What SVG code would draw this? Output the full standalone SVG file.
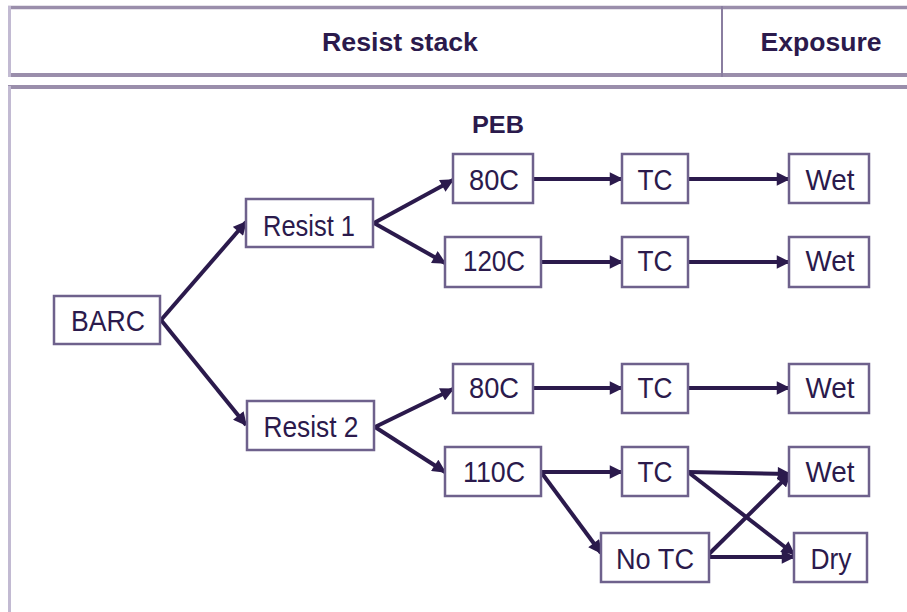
<svg xmlns="http://www.w3.org/2000/svg" width="907" height="612" viewBox="0 0 907 612">
<style>
.box{fill:#fff;stroke:#6e618c;stroke-width:2.5}
.t{font-family:"Liberation Sans",Arial,sans-serif;font-size:29px;fill:#2b1a4c;text-anchor:middle}
.h{font-family:"Liberation Sans",Arial,sans-serif;font-size:25px;font-weight:bold;fill:#2b1a4c;text-anchor:middle}
.c{stroke:#2b1a4c;stroke-width:4;fill:none;marker-end:url(#ah)}
</style>
<defs>
<marker id="ah" viewBox="0 0 10 10" refX="9" refY="5" markerWidth="3.6" markerHeight="3.4" orient="auto" markerUnits="strokeWidth">
<path d="M0,0 L10,5 L0,10 z" fill="#2b1a4c"/>
</marker>
</defs>
<rect width="907" height="612" fill="#fff"/>
<g id="header">
<line x1="8" y1="7.5" x2="907" y2="7.5" stroke="#9a8eab" stroke-width="3.5"/>
<line x1="8" y1="75" x2="907" y2="75" stroke="#9a8eab" stroke-width="4"/>
<line x1="9.5" y1="6" x2="9.5" y2="77" stroke="#c2bad2" stroke-width="3"/>
<line x1="722" y1="6" x2="722" y2="77" stroke="#8a7ea0" stroke-width="2"/>
<text class="h" x="400" y="51" textLength="156" lengthAdjust="spacingAndGlyphs">Resist stack</text>
<text class="h" x="821" y="51" textLength="121" lengthAdjust="spacingAndGlyphs">Exposure</text>
<line x1="8" y1="87" x2="907" y2="87" stroke="#9a8eab" stroke-width="4"/>
<line x1="9.5" y1="86" x2="9.5" y2="612" stroke="#c2bad2" stroke-width="3"/>
<text class="h" x="498" y="133" style="font-size:23px" textLength="52" lengthAdjust="spacingAndGlyphs">PEB</text>
</g>
<g id="connectors">
<line class="c" x1="161" y1="320" x2="246" y2="222"/>
<line class="c" x1="161" y1="320" x2="246" y2="425"/>
<line class="c" x1="374" y1="223" x2="453" y2="180"/>
<line class="c" x1="374" y1="223" x2="445" y2="263"/>
<line class="c" x1="375" y1="427" x2="453" y2="389"/>
<line class="c" x1="375" y1="427" x2="445" y2="472"/>
<line class="c" x1="533" y1="179" x2="622" y2="179"/>
<line class="c" x1="688" y1="179" x2="789" y2="179"/>
<line class="c" x1="541" y1="262" x2="622" y2="262"/>
<line class="c" x1="688" y1="262" x2="789" y2="262"/>
<line class="c" x1="533" y1="388" x2="622" y2="388"/>
<line class="c" x1="688" y1="388" x2="789" y2="388"/>
<line class="c" x1="541" y1="472" x2="622" y2="472"/>
<line class="c" x1="541" y1="472" x2="601" y2="553"/>
<line class="c" x1="688" y1="472" x2="790" y2="474"/>
<line class="c" x1="688" y1="472" x2="794" y2="554"/>
<line class="c" x1="709" y1="554" x2="790" y2="474"/>
<line class="c" x1="709" y1="557" x2="794" y2="557"/>
</g>
<g id="barc"><rect class="box" x="54" y="296" width="106" height="48"/><text class="t" x="108" y="331" textLength="74" lengthAdjust="spacingAndGlyphs">BARC</text></g>
<g id="resist1"><rect class="box" x="246" y="199" width="127" height="48"/><text class="t" x="309" y="236" textLength="92" lengthAdjust="spacingAndGlyphs">Resist 1</text></g>
<g id="resist2"><rect class="box" x="247" y="401" width="127" height="49"/><text class="t" x="311" y="437" textLength="95" lengthAdjust="spacingAndGlyphs">Resist 2</text></g>
<g id="peb80a"><rect class="box" x="453" y="154" width="80" height="49"/><text class="t" x="494" y="190" textLength="50" lengthAdjust="spacingAndGlyphs">80C</text></g>
<g id="peb120"><rect class="box" x="445" y="237" width="96" height="50"/><text class="t" x="494" y="271" textLength="62" lengthAdjust="spacingAndGlyphs">120C</text></g>
<g id="peb80b"><rect class="box" x="453" y="364" width="80" height="49"/><text class="t" x="494" y="398" textLength="50" lengthAdjust="spacingAndGlyphs">80C</text></g>
<g id="peb110"><rect class="box" x="445" y="447" width="96" height="49"/><text class="t" x="494" y="482" textLength="62" lengthAdjust="spacingAndGlyphs">110C</text></g>
<g id="tc1"><rect class="box" x="622" y="154" width="66" height="49"/><text class="t" x="655" y="190" textLength="35" lengthAdjust="spacingAndGlyphs">TC</text></g>
<g id="tc2"><rect class="box" x="622" y="237" width="66" height="50"/><text class="t" x="655" y="271" textLength="35" lengthAdjust="spacingAndGlyphs">TC</text></g>
<g id="tc3"><rect class="box" x="622" y="364" width="66" height="49"/><text class="t" x="655" y="398" textLength="35" lengthAdjust="spacingAndGlyphs">TC</text></g>
<g id="tc4"><rect class="box" x="622" y="447" width="66" height="49"/><text class="t" x="655" y="482" textLength="35" lengthAdjust="spacingAndGlyphs">TC</text></g>
<g id="notc"><rect class="box" x="601" y="533" width="108" height="49"/><text class="t" x="655" y="569" textLength="78" lengthAdjust="spacingAndGlyphs">No TC</text></g>
<g id="wet1"><rect class="box" x="789" y="154" width="80" height="49"/><text class="t" x="830" y="190" textLength="49" lengthAdjust="spacingAndGlyphs">Wet</text></g>
<g id="wet2"><rect class="box" x="789" y="237" width="80" height="50"/><text class="t" x="830" y="271" textLength="49" lengthAdjust="spacingAndGlyphs">Wet</text></g>
<g id="wet3"><rect class="box" x="789" y="364" width="80" height="49"/><text class="t" x="830" y="398" textLength="49" lengthAdjust="spacingAndGlyphs">Wet</text></g>
<g id="wet4"><rect class="box" x="789" y="447" width="80" height="49"/><text class="t" x="830" y="482" textLength="49" lengthAdjust="spacingAndGlyphs">Wet</text></g>
<g id="dry"><rect class="box" x="794" y="533" width="73" height="49"/><text class="t" x="831" y="569" textLength="41" lengthAdjust="spacingAndGlyphs">Dry</text></g>
</svg>
